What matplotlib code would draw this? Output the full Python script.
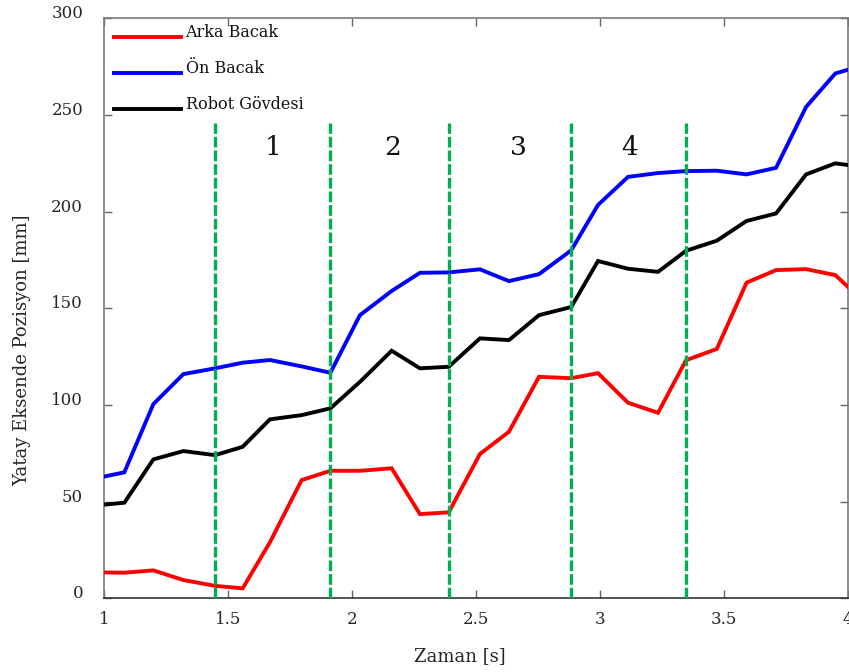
import numpy as np
import matplotlib
matplotlib.use("Agg")
import matplotlib.pyplot as plt
from matplotlib.legend_handler import HandlerLine2D

# Sample times [s]
t = [0.962, 1.082, 1.199, 1.320, 1.448, 1.559, 1.669, 1.797, 1.913, 2.032,
     2.160, 2.274, 2.390, 2.516, 2.633, 2.754, 2.884, 2.992, 3.113, 3.234,
     3.347, 3.471, 3.591, 3.710, 3.831, 3.949, 4.068]

# Horizontal positions [mm]
arka_bacak = [13.5, 13.3, 14.5, 9.5, 6.5, 5.2, 29.0, 61.2, 66.0, 66.0,
              67.3, 43.6, 44.5, 74.7, 86.2, 114.6, 113.9, 116.5, 101.2, 96.0,
              123.2, 129.0, 163.3, 169.8, 170.3, 167.2, 153.0]
on_bacak = [62.0, 65.2, 100.5, 116.0, 119.0, 121.9, 123.3, 120.0, 116.7, 146.5,
            159.0, 168.4, 168.6, 170.2, 164.1, 167.7, 180.0, 203.5, 218.0, 220.0,
            221.0, 221.2, 219.3, 222.7, 254.2, 271.5, 276.0]
govde = [48.0, 49.5, 71.9, 76.2, 74.1, 78.4, 92.6, 94.8, 98.3, 112.0,
         128.1, 119.0, 119.8, 134.5, 133.6, 146.5, 150.7, 174.5, 170.5, 168.9,
         179.8, 185.0, 195.2, 199.1, 219.3, 225.0, 223.0]

# Phase boundaries and phase numbers
phase_bounds = [1.448, 1.913, 2.390, 2.884, 3.347]
phase_top = 246
phase_names = ["1", "2", "3", "4"]
phase_label_x = [1.68, 2.165, 2.67, 3.12]
phase_label_y = 233

series_names = ["Arka Bacak", "Ön Bacak", "Robot Gövdesi"]
series_colors = ["#ff0000", "#0000ff", "#000000"]

xticks = [1, 1.5, 2, 2.5, 3, 3.5, 4]
xticklabels = ["1", "1.5", "2", "2.5", "3", "3.5", "4"]
yticks = [0, 50, 100, 150, 200, 250, 300]

serif = ["DejaVu Serif"]
plt.rcParams["font.family"] = serif

fig = plt.figure(figsize=(8.49, 6.72), dpi=100)
ax = fig.add_axes([0.1225, 0.1095, 0.8763, 0.8632])

lines = []
for vals, name, col in zip([arka_bacak, on_bacak, govde], series_names, series_colors):
    ln, = ax.plot(t, vals, color=col, lw=2.8, label=name, solid_joinstyle="miter",
                  zorder=3)
    lines.append(ln)

for xb in phase_bounds:
    ax.plot([xb, xb], [0, phase_top], color="#00b050", lw=2.4,
            dashes=(3.2, 0.9), zorder=4)

for name, px in zip(phase_names, phase_label_x):
    ax.text(px, phase_label_y, name, fontsize=19, ha="center", va="center",
            color="#111111")

ax.set_xlim(1, 4)
ax.set_ylim(0, 300)
ax.set_xticks(xticks)
ax.set_xticklabels(xticklabels)
ax.set_yticks(yticks)

ax.tick_params(direction="in", length=6, width=1.0, color="#666666",
               labelsize=12, labelcolor="#262626", top=True, right=True)
ax.tick_params(axis="y", pad=15)
ax.tick_params(axis="x", pad=9)
for lab in ax.get_yticklabels():
    lab.set_verticalalignment("baseline")

for side in ["left", "right", "top"]:
    ax.spines[side].set_color("#7a7a7a")
    ax.spines[side].set_linewidth(1.2)
ax.spines["bottom"].set_color("#333333")
ax.spines["bottom"].set_linewidth(1.2)

ax.set_xlabel("Zaman [s]", fontsize=13, color="#262626")
ax.set_ylabel("Yatay Eksende Pozisyon [mm]", fontsize=13, color="#262626")
ax.xaxis.set_label_coords(0.478, -0.083)
ax.yaxis.set_label_coords(-0.098, 0.428)


class BaselineLine(HandlerLine2D):
    """Legend key drawn at the text baseline."""
    def create_artists(self, legend, orig_handle, xdescent, ydescent, width,
                       height, fontsize, trans):
        arts = super().create_artists(legend, orig_handle, xdescent, ydescent,
                                      width, height, fontsize, trans)
        for a in arts:
            a.set_ydata(np.asarray(a.get_ydata(), dtype=float) - 0.33 * fontsize)
        return arts


leg = ax.legend(handles=lines, loc="upper left", bbox_to_anchor=(0.013, 0.99),
                frameon=False, fontsize=11.5, handlelength=4.2,
                handletextpad=0.3, labelspacing=1.2, borderpad=0,
                borderaxespad=0, handler_map={matplotlib.lines.Line2D: BaselineLine()})
for txt in leg.get_texts():
    txt.set_color("#111111")

fig.savefig("out.png", dpi=100)
